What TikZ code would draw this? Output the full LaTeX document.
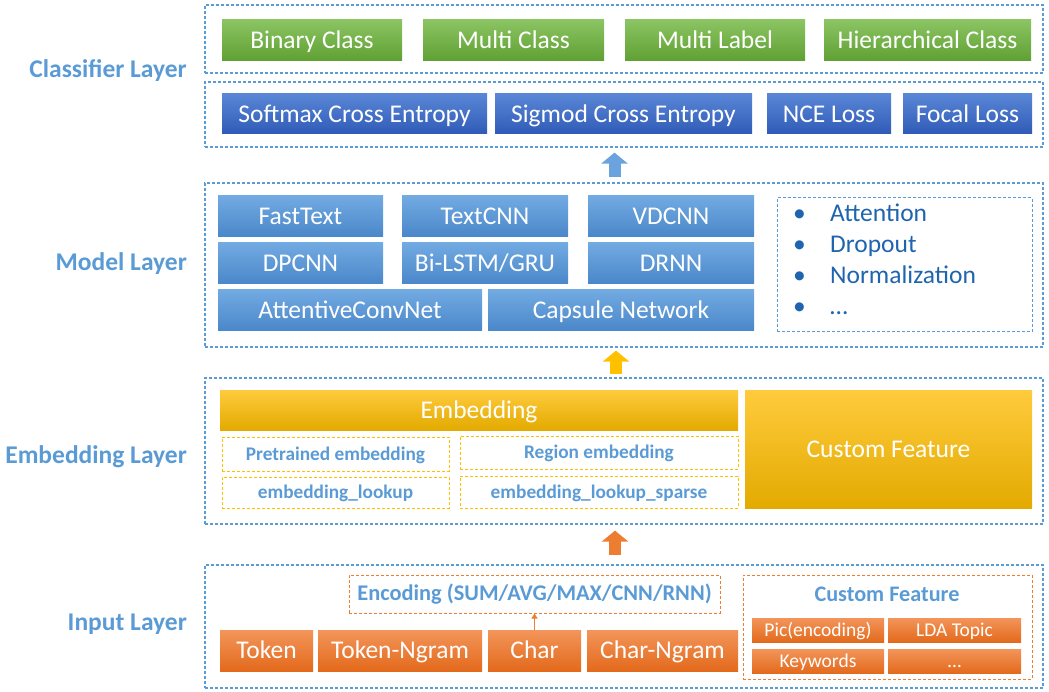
\documentclass[tikz,border=0pt]{standalone}
\usepackage{fontspec}
\setmainfont{Carlito}
\usetikzlibrary{arrows.meta}
\definecolor{lblue}{HTML}{5B9BD5}
\definecolor{green1}{HTML}{8BC462}
\definecolor{green2}{HTML}{5FA033}
\definecolor{blue1}{HTML}{5A86D6}
\definecolor{blue2}{HTML}{2F5BB7}
\definecolor{sky1}{HTML}{72AAE2}
\definecolor{sky2}{HTML}{4A87C9}
\definecolor{yel1}{HTML}{FFCB3D}
\definecolor{yel2}{HTML}{E3AA00}
\definecolor{ydash}{HTML}{FFC000}
\definecolor{org1}{HTML}{F3955A}
\definecolor{org2}{HTML}{E36A1C}
\definecolor{odash}{HTML}{ED7D31}
\definecolor{optblue}{HTML}{1F64AE}
\begin{document}
\begin{tikzpicture}[x=1pt, y=-1pt,
  every node/.style={inner sep=0pt, text=white, font=\fontsize{25.5}{30}\selectfont},
  sz/.style 2 args={minimum width=#1, minimum height=#2},
  box/.style={text height=16.4pt, text depth=0pt},
  grp/.style={draw=lblue, line width=1.2pt, dash pattern=on 3pt off 2pt},
  cls/.style={box, top color=green1, bottom color=green2},
  loss/.style={box, top color=blue1, bottom color=blue2},
  mdl/.style={box, top color=sky1, bottom color=sky2},
  emb/.style={box, top color=yel1, bottom color=yel2},
  inp/.style={box, top color=org1, bottom color=org2},
  feat/.style={inp, font=\fontsize{19.5}{23}\selectfont, text height=12.6pt},
  ybox/.style={draw=ydash, line width=1pt, dash pattern=on 3pt off 2pt, text=lblue,
    font=\bfseries\fontsize{19.3}{23}\selectfont, text height=12.4pt, text depth=0pt},
  obox/.style={draw=odash, line width=1pt, dash pattern=on 3pt off 2pt, text=lblue,
    font=\bfseries\fontsize{22.4}{26}\selectfont},
  opt/.style={text=optblue, font=\fontsize{25.5}{30}\selectfont},
  lab/.style={anchor=east, text=lblue, font=\bfseries\fontsize{25.5}{30}\selectfont},
  flow/.style={line width=12pt, -{Triangle[width=26pt,length=11pt]}}]
  \useasboundingbox (0,0) rectangle (1049,692);

  \node[grp, sz={838}{68}] (clsgrp) at (624,39) {};
  \node[grp, sz={838}{65}] (lossgrp) at (624,114.5) {};
  \node[grp, sz={838}{164}] (mdlgrp) at (624,265) {};
  \node[grp, sz={838}{146}] (embgrp) at (624,451) {};
  \node[grp, sz={838}{123}] (inpgrp) at (624,626.5) {};

  \node[lab] (clslab) at (187,71) {Classifier Layer};
  \node[lab] (mdllab) at (187,264) {Model Layer};
  \node[lab] (emblab) at (187,457) {Embedding Layer};
  \node[lab] (inplab) at (187,624) {Input Layer};

  \node[cls, sz={180}{41}] (binary) at (312,40.5) {Binary Class};
  \node[cls, sz={181}{41}] (multi) at (513.5,40.5) {Multi Class};
  \node[cls, sz={180}{41}] (mlabel) at (715,40.5) {Multi Label};
  \node[cls, sz={207}{41}] (hier) at (927.5,40.5) {Hierarchical Class};

  \node[loss, sz={265}{40}] (softmax) at (354.5,114) {Softmax Cross Entropy};
  \node[loss, sz={257}{40}] (sigmod) at (623.5,114) {Sigmod Cross Entropy};
  \node[loss, sz={124}{40}] (nce) at (829,114) {NCE Loss};
  \node[loss, sz={129}{40}] (focal) at (967.5,114) {Focal Loss};

  \node[mdl, sz={165}{41}] (fasttext) at (300.5,216.5) {FastText};
  \node[mdl, sz={166}{41}] (textcnn) at (485,216.5) {TextCNN};
  \node[mdl, sz={166}{41}] (vdcnn) at (671,216.5) {VDCNN};
  \node[mdl, sz={165}{41}] (dpcnn) at (300.5,263.5) {DPCNN};
  \node[mdl, sz={166}{41}] (bilstm) at (485,263.5) {Bi-LSTM/GRU};
  \node[mdl, sz={166}{41}] (drnn) at (671,263) {DRNN};
  \node[mdl, sz={264}{41}] (attconv) at (350,310.5) {AttentiveConvNet};
  \node[mdl, sz={266}{41}] (capsule) at (621,310.5) {Capsule Network};
  \node[grp, line width=1pt, sz={255}{134}] (optgrp) at (904.5,265) {};
  \foreach \t [count=\i] in {Attention,Dropout,Normalization,…}
    \node[opt, anchor=base west] (opt\i) at (793,191+31*\i) {\makebox[37pt][l]{\textbullet}\t};

  \node[emb, sz={518}{40}] (embedding) at (479,410) {Embedding};
  \node[emb, sz={287}{118}] (custom) at (888.5,449) {Custom Feature};
  \node[ybox, sz={227}{34}] (pretrained) at (335.5,454) {Pretrained embedding};
  \node[ybox, sz={278}{33}] (region) at (599,452.5) {Region embedding};
  \node[ybox, sz={227}{31}] (lookup) at (335.5,492.5) {embedding\_lookup};
  \node[ybox, sz={278}{32}] (sparse) at (599,492) {embedding\_lookup\_sparse};

  \node[obox, sz={371}{38}] (encoding) at (534.5,594) {Encoding (SUM/AVG/MAX/CNN/RNN)};
  \node[obox, sz={289}{104}] (featgrp) at (887.5,627) {};
  \node[text=lblue, font=\bfseries\fontsize{22.2}{26}\selectfont] (feattitle) at (887,594) {Custom Feature};
  \node[inp, sz={93}{41}] (token) at (266.5,650.5) {Token};
  \node[inp, sz={164}{41}] (tokenng) at (400,650.5) {Token-Ngram};
  \node[inp, sz={93}{41}] (char) at (534.5,650.5) {Char};
  \node[inp, sz={151}{41}] (charng) at (662.5,650.5) {Char-Ngram};
  \node[feat, sz={132}{24}] (pic) at (818,630) {Pic(encoding)};
  \node[feat, sz={133}{24}] (lda) at (954.5,630) {LDA Topic};
  \node[feat, sz={132}{24}] (keywords) at (818,661) {Keywords};
  \node[feat, sz={133}{24}] (more) at (954.5,661) {…};

  \draw[flow, draw=sky1!80!sky2, shorten <=5pt, shorten >=5pt]
    ([xshift=-9.5pt]mdlgrp.north) -- ([xshift=-9.5pt]lossgrp.south);
  \draw[flow, draw=ydash, shorten <=3pt, shorten >=3pt]
    ([xshift=-8pt]embgrp.north) -- ([xshift=-8pt]mdlgrp.south);
  \draw[flow, draw=odash, shorten <=9pt, shorten >=6pt]
    ([xshift=-9pt]inpgrp.north) -- ([xshift=-9pt]embgrp.south);
  \draw[draw=odash, line width=1pt, -{Triangle[width=6pt,length=5pt]}] (char) -- (encoding);
\end{tikzpicture}
\end{document}
